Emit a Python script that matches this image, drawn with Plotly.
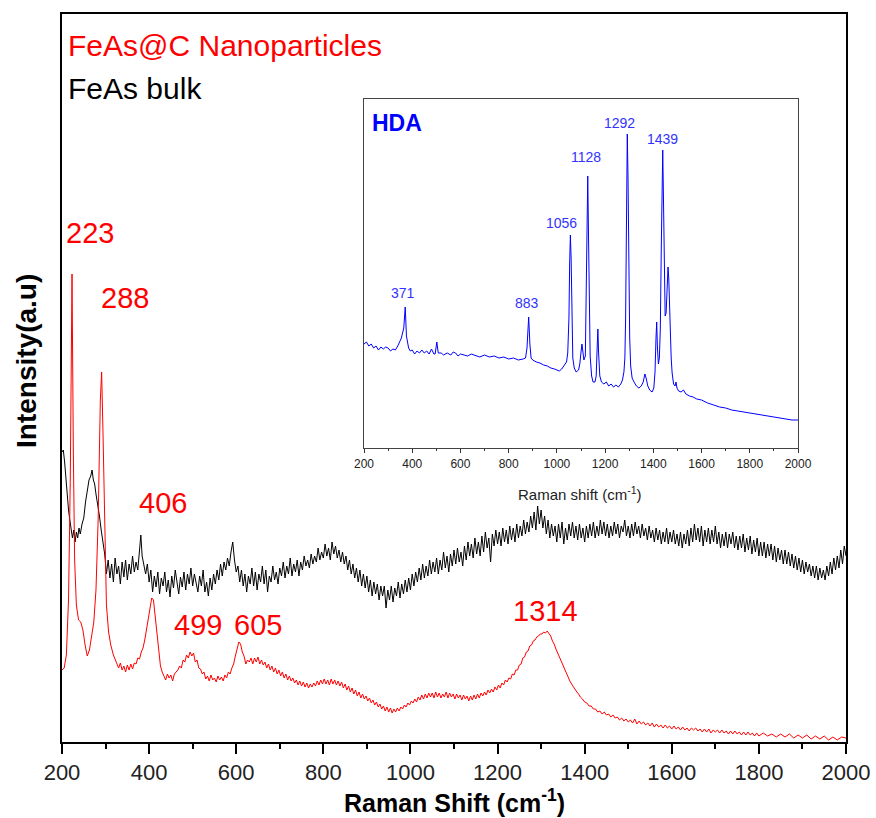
import plotly.graph_objects as go

# ---------------- data (Raman shift in cm^-1, intensity in arbitrary units) ----------------
red_pts = [(200,72),(205,74),(210,87),(215,142),(219,262),(223,468),(226,292),(229,182),(233,137),(238,122),(243,120),(248,112),(253,97),(258,86),(263,92),(268,104),(273,120),(278,152),(283,222),(288,342),(291,370),(294,312),(298,202),(302,137),(307,110),(312,97),(318,87),(322,82),(326,78),(330,74),(334,79),(338,72),(342,76),(346,70),(350,77),(354,72),(358,78),(362,73),(366,79),(370,78),(374,84),(378,83),(382,90),(386,94),(390,102),(394,112),(398,124),(402,136),(406,144),(410,142),(414,126),(418,106),(422,88),(426,76),(430,70),(434,66),(438,62),(442,68),(446,64),(450,67),(454,61),(458,68),(462,70),(466,72),(470,76),(474,74),(478,82),(482,80),(486,87),(490,84),(494,90),(498,86),(502,89),(506,80),(510,82),(514,74),(518,73),(522,68),(526,70),(530,63),(534,66),(538,61),(542,67),(546,62),(550,64),(554,60),(558,66),(562,62),(566,65),(570,61),(574,67),(578,64),(582,70),(586,68),(590,74),(594,78),(598,86),(602,94),(606,100),(610,98),(614,90),(618,86),(622,78),(626,82),(630,80),(634,84),(638,78),(642,84),(646,80),(650,85),(654,78),(658,82),(662,77),(666,80),(670,74),(674,78),(678,72),(682,76),(686,70),(690,74),(694,68),(698,72),(702,66),(706,70),(710,64),(714,68),(718,62),(722,66),(726,61),(730,64),(734,59),(738,62),(742,57),(746,61),(750,56),(754,60),(758,55),(762,59),(766,54),(770,58),(774,55),(778,59),(782,56),(786,61),(790,57),(794,62),(798,58),(802,63),(806,58),(810,62),(814,57),(818,63),(822,58),(826,62),(830,57),(834,61),(838,56),(842,60),(846,54),(850,58),(854,52),(858,56),(862,50),(866,54),(870,48),(874,52),(878,46),(882,50),(886,44),(890,48),(894,43),(898,46),(902,41),(906,44),(910,39),(914,42),(918,37),(922,40),(926,35),(930,38),(934,33),(938,36),(942,31),(946,35),(950,30),(954,34),(958,29),(962,33),(966,30),(970,34),(974,31),(978,35),(982,33),(986,37),(990,35),(994,39),(998,37),(1002,41),(1006,39),(1010,43),(1014,40),(1018,45),(1022,42),(1026,47),(1030,43),(1034,48),(1038,44),(1042,49),(1046,45),(1050,49),(1054,44),(1058,50),(1062,45),(1066,49),(1070,44),(1074,48),(1078,45),(1082,50),(1086,44),(1090,49),(1094,45),(1098,48),(1102,43),(1106,48),(1110,44),(1114,47),(1118,42),(1122,47),(1126,43),(1130,46),(1134,41),(1138,46),(1142,42),(1146,47),(1150,43),(1154,48),(1158,44),(1162,49),(1166,46),(1170,50),(1174,47),(1178,52),(1182,49),(1186,53),(1190,50),(1194,55),(1198,52),(1202,57),(1206,54),(1210,59),(1214,57),(1218,62),(1222,60),(1226,64),(1230,63),(1234,68),(1238,67),(1242,72),(1246,72),(1250,77),(1254,78),(1258,84),(1262,85),(1266,90),(1270,91),(1274,96),(1278,97),(1282,101),(1286,102),(1290,105),(1294,106),(1298,108),(1302,108),(1306,110),(1310,109),(1314,111),(1318,108),(1322,106),(1326,101),(1330,98),(1334,93),(1338,89),(1342,84),(1346,80),(1350,76),(1354,72),(1358,68),(1362,64),(1366,61),(1370,58),(1374,55),(1378,53),(1382,50),(1386,48),(1390,45),(1395,43),(1400,40),(1405,39),(1410,36),(1415,36),(1420,33),(1425,33),(1430,30),(1435,31),(1440,28),(1445,30),(1450,27),(1455,28),(1460,25),(1465,27),(1470,24),(1475,25),(1480,22),(1485,24),(1490,21),(1495,23),(1500,20),(1505,22),(1510,19),(1515,23),(1520,18),(1525,21),(1530,18),(1535,20),(1540,17),(1545,19),(1550,16),(1555,19),(1560,15),(1565,18),(1570,15),(1575,17),(1580,14),(1585,17),(1590,14),(1595,16),(1600,13),(1605,16),(1610,13),(1615,15),(1620,12),(1625,15),(1630,12),(1635,14),(1640,11),(1645,14),(1650,12),(1655,14),(1660,11),(1665,13),(1670,10),(1675,13),(1680,10),(1685,13),(1690,9),(1695,12),(1700,10),(1705,12),(1710,9),(1715,12),(1720,9),(1725,11),(1730,8),(1735,11),(1740,8),(1745,11),(1750,8),(1755,10),(1760,7),(1765,10),(1770,7),(1775,10),(1780,7),(1785,9),(1790,6),(1795,9),(1800,6),(1810,9),(1820,6),(1830,8),(1840,5),(1850,8),(1860,5),(1870,8),(1880,4),(1890,7),(1900,4),(1910,7),(1920,3),(1930,6),(1940,3),(1950,6),(1960,2),(1970,5),(1980,2),(1990,5),(2000,4)]

black_pts = [(200,290),(203,292),(206,280),(209,262),(212,245),(215,232),(218,222),(221,214),(224,204),(227,212),(230,200),(233,210),(236,204),(239,214),(242,208),(246,218),(250,224),(254,240),(258,252),(262,262),(266,266),(269,272),(272,262),(275,258),(278,248),(282,238),(286,226),(290,212),(294,200),(298,188),(302,168),(306,182),(310,164),(314,178),(318,160),(322,184),(326,168),(330,176),(334,158),(338,180),(342,165),(346,182),(350,162),(354,178),(358,168),(362,186),(366,170),(370,180),(374,172),(378,192),(381,207),(384,186),(388,176),(392,168),(396,178),(400,160),(404,172),(408,150),(412,166),(416,155),(420,170),(424,148),(428,164),(432,156),(436,170),(440,150),(444,162),(448,145),(452,166),(456,154),(460,172),(464,158),(468,148),(472,165),(476,155),(480,170),(484,152),(488,168),(492,158),(496,174),(500,156),(504,168),(508,160),(512,150),(516,166),(520,156),(524,172),(528,150),(532,160),(536,146),(540,164),(544,152),(548,168),(552,158),(556,172),(560,162),(564,178),(568,166),(572,180),(576,172),(580,184),(584,176),(588,190),(592,200),(596,182),(600,170),(604,176),(608,160),(612,172),(616,156),(620,168),(624,150),(628,166),(632,158),(636,174),(640,156),(644,170),(648,152),(652,168),(656,160),(660,176),(664,158),(668,172),(672,150),(676,166),(680,160),(684,176),(688,162),(692,170),(696,158),(700,174),(704,166),(708,180),(712,164),(716,176),(720,168),(724,184),(728,166),(732,178),(736,170),(740,182),(744,166),(748,180),(752,172),(756,186),(760,176),(764,182),(768,174),(772,188),(776,178),(780,186),(784,180),(788,194),(792,182),(796,190),(800,184),(804,198),(808,186),(812,194),(816,182),(820,200),(824,188),(828,196),(832,184),(836,192),(840,180),(844,190),(848,178),(852,186),(856,172),(860,182),(864,168),(868,178),(872,164),(876,174),(880,160),(884,172),(888,156),(892,168),(896,154),(900,166),(904,150),(908,162),(912,146),(916,160),(920,148),(924,158),(928,142),(932,156),(936,146),(940,156),(944,134),(948,152),(952,142),(956,156),(960,140),(964,154),(968,146),(972,160),(976,144),(980,158),(984,148),(988,162),(992,150),(996,164),(1000,152),(1004,168),(1008,156),(1012,170),(1016,160),(1020,174),(1024,162),(1028,178),(1032,164),(1036,176),(1040,166),(1044,182),(1048,168),(1052,180),(1056,170),(1060,184),(1064,168),(1068,182),(1072,172),(1076,190),(1080,174),(1084,186),(1088,170),(1092,188),(1096,176),(1100,192),(1104,178),(1108,194),(1112,180),(1116,190),(1120,176),(1124,196),(1128,182),(1132,200),(1136,186),(1140,198),(1144,184),(1148,204),(1152,188),(1156,200),(1160,186),(1164,206),(1168,190),(1172,210),(1176,194),(1180,204),(1184,180),(1188,208),(1192,196),(1196,212),(1200,198),(1204,210),(1208,196),(1212,214),(1216,200),(1220,212),(1224,198),(1228,216),(1232,202),(1236,214),(1240,200),(1244,218),(1248,204),(1252,216),(1256,206),(1260,222),(1264,208),(1268,220),(1272,210),(1276,226),(1280,214),(1284,230),(1288,212),(1292,236),(1296,218),(1300,232),(1304,214),(1308,226),(1312,208),(1316,222),(1320,204),(1324,218),(1328,206),(1332,216),(1336,200),(1340,218),(1344,204),(1348,220),(1352,198),(1356,214),(1360,202),(1364,218),(1368,206),(1372,220),(1376,204),(1380,216),(1384,202),(1388,218),(1392,204),(1396,214),(1400,200),(1404,216),(1408,204),(1412,218),(1416,206),(1420,220),(1424,204),(1428,216),(1432,206),(1436,222),(1440,208),(1444,220),(1448,206),(1452,218),(1456,204),(1460,216),(1464,206),(1468,220),(1472,208),(1476,218),(1480,204),(1484,216),(1488,210),(1492,222),(1496,206),(1500,216),(1504,204),(1508,218),(1512,206),(1516,220),(1520,208),(1524,216),(1528,204),(1532,218),(1536,206),(1540,214),(1544,202),(1548,216),(1552,204),(1556,212),(1560,200),(1564,214),(1568,202),(1572,212),(1576,198),(1580,210),(1584,200),(1588,214),(1592,198),(1596,210),(1600,200),(1604,212),(1608,198),(1612,208),(1616,196),(1620,210),(1624,194),(1628,208),(1632,198),(1636,212),(1640,196),(1644,214),(1648,200),(1652,218),(1656,202),(1660,214),(1664,200),(1668,216),(1672,196),(1676,212),(1680,200),(1684,214),(1688,198),(1692,212),(1696,200),(1700,216),(1704,198),(1708,210),(1712,194),(1716,208),(1720,196),(1724,210),(1728,194),(1732,208),(1736,198),(1740,210),(1744,194),(1748,206),(1752,192),(1756,206),(1760,194),(1764,208),(1768,190),(1772,204),(1776,192),(1780,206),(1784,188),(1788,202),(1792,190),(1796,204),(1800,186),(1804,200),(1808,186),(1812,200),(1816,184),(1820,198),(1824,186),(1828,198),(1832,182),(1836,196),(1840,180),(1844,194),(1848,182),(1852,192),(1856,178),(1860,192),(1864,178),(1868,190),(1872,176),(1876,188),(1880,174),(1884,186),(1888,172),(1892,184),(1896,170),(1900,182),(1904,168),(1908,180),(1912,170),(1916,178),(1920,166),(1924,176),(1928,164),(1932,176),(1936,162),(1940,174),(1944,164),(1948,172),(1952,162),(1956,176),(1960,166),(1964,180),(1968,168),(1972,184),(1976,172),(1980,186),(1984,174),(1988,192),(1992,178),(1996,196),(2000,186)]

hda_pts = [(200,104),(210,106),(220,102),(230,104),(240,100),(250,102),(260,98),(270,101),(280,99),(290,101),(300,100),(310,97),(320,99),(330,98),(340,102),(355,110),(365,120),(371,141),(376,112),(385,100),(392,97),(400,98),(410,94),(420,97),(430,95),(440,98),(450,95),(460,97),(470,94),(480,99),(490,94),(495,94),(502,106),(508,95),(520,95),(530,93),(545,95),(560,93),(570,96),(580,95),(590,92),(600,94),(615,93),(630,92),(645,94),(660,93),(680,91),(700,93),(720,91),(740,92),(760,90),(780,91),(800,89),(820,90),(840,88),(860,89),(870,90),(876,100),(883,131),(888,104),(893,90),(900,88),(915,86),(930,85),(945,83),(960,82),(975,80),(990,79),(1000,78),(1010,77),(1020,79),(1030,82),(1040,86),(1045,95),(1050,130),(1053,185),(1056,213),(1059,190),(1062,120),(1066,90),(1072,80),(1080,76),(1090,78),(1095,84),(1101,98),(1104,104),(1108,96),(1112,88),(1118,92),(1121,140),(1124,210),(1128,272),(1131,215),(1134,140),(1138,92),(1144,72),(1150,66),(1158,66),(1163,72),(1167,100),(1170,119),(1173,95),(1178,72),(1185,66),(1195,64),(1205,66),(1215,62),(1225,64),(1235,61),(1245,63),(1255,61),(1265,64),(1272,68),(1278,76),(1282,90),(1285,130),(1288,200),(1292,314),(1295,270),(1298,180),(1302,110),(1306,82),(1312,70),(1320,66),(1330,62),(1340,60),(1350,62),(1358,66),(1365,74),(1370,70),(1377,62),(1385,58),(1395,56),(1402,60),(1407,76),(1411,110),(1414,126),(1417,100),(1421,84),(1425,90),(1429,120),(1433,200),(1436,260),(1439,298),(1442,250),(1445,180),(1449,132),(1453,135),(1457,160),(1461,181),(1464,170),(1467,140),(1470,110),(1474,90),(1478,75),(1484,64),(1490,62),(1494,66),(1498,60),(1505,57),(1515,56),(1525,58),(1535,54),(1550,52),(1565,51),(1580,49),(1600,48),(1625,45),(1650,43),(1675,41),(1700,40),(1725,38),(1750,37),(1775,36),(1800,35),(1825,34),(1850,33),(1875,32),(1900,31),(1925,30),(1950,29),(1975,28),(2000,28)]

red_x = [p[0] for p in red_pts]
red_y = [p[1] for p in red_pts]
black_x = [p[0] for p in black_pts]
black_y = [p[1] for p in black_pts]
hda_x = [p[0] for p in hda_pts]
hda_y = [p[1] for p in hda_pts]

main_labels = ["223", "288", "406", "499", "605", "1314"]
main_label_x = [264, 345, 432, 512, 650, 1311]
main_label_y = [509, 444, 239, 117, 117, 131]

hda_labels = ["371", "883", "1056", "1128", "1292", "1439"]
hda_label_x = [362, 876, 1021, 1121, 1258, 1436]
hda_label_y = [155, 145, 225, 291, 325, 309]

tick_vals = [200, 400, 600, 800, 1000, 1200, 1400, 1600, 1800, 2000]
tick_text = [str(v) for v in tick_vals]

# ---------------- figure ----------------
W, H = 876, 818
L, R, T, B = 62, 30, 14, 76
fig = go.Figure()

fig.add_trace(go.Scatter(x=black_x, y=black_y, mode="lines",
                         line=dict(color="black", width=1), xaxis="x", yaxis="y"))
fig.add_trace(go.Scatter(x=red_x, y=red_y, mode="lines",
                         line=dict(color="#ff0000", width=1), xaxis="x", yaxis="y"))
fig.add_trace(go.Scatter(x=hda_x, y=hda_y, mode="lines",
                         line=dict(color="#0000ff", width=1), xaxis="x2", yaxis="y2"))

sans = "Liberation Sans, Arial"

pw = W - L - R
ph = H - T - B
ix0, ix1 = (364 - L) / pw, (798 - L) / pw
iy0, iy1 = (H - B - 448) / ph, (H - B - 99) / ph

fig.update_layout(
    width=W, height=H,
    margin=dict(l=L, r=R, t=T, b=B, autoexpand=False),
    paper_bgcolor="white", plot_bgcolor="white",
    showlegend=False,
    xaxis=dict(range=[200, 2000], domain=[0, 1], tickvals=tick_vals, ticktext=tick_text,
               automargin=False,
               ticks="outside", ticklen=10, tickwidth=2, tickcolor="black",
               minor=dict(dtick=100, ticks="outside", ticklen=5, tickwidth=1.5, tickcolor="black"),
               showline=True, linecolor="black", linewidth=2, mirror=True,
               showgrid=False, zeroline=False,
               tickfont=dict(family=sans, size=22, color="#222")),
    yaxis=dict(range=[0, 728], domain=[0, 1], showticklabels=False, ticks="", automargin=False,
               showline=True, linecolor="black", linewidth=2, mirror=True,
               showgrid=False, zeroline=False),
    xaxis2=dict(range=[200, 2000], domain=[ix0, ix1], anchor="y2", automargin=False,
                dtick=200, tick0=200, ticks="outside", ticklen=4, tickwidth=1, tickcolor="#333",
                minor=dict(dtick=100, ticks="outside", ticklen=2, tickwidth=1, tickcolor="#333"),
                showline=True, linecolor="#444", linewidth=1.2, mirror=True,
                showgrid=False, zeroline=False,
                tickfont=dict(family=sans, size=12, color="#222")),
    yaxis2=dict(range=[0, 349], domain=[iy0, iy1], anchor="x2", showticklabels=False, ticks="",
                automargin=False,
                showline=True, linecolor="#444", linewidth=1.2, mirror=True,
                showgrid=False, zeroline=False),
)

ann = []
for t, x, y in zip(main_labels, main_label_x, main_label_y):
    ann.append(dict(text=t, x=x, y=y, xref="x", yref="y", showarrow=False,
                    font=dict(family=sans, size=29, color="#ff0000")))
for t, x, y in zip(hda_labels, hda_label_x, hda_label_y):
    ann.append(dict(text=t, x=x, y=y, xref="x2", yref="y2", showarrow=False,
                    font=dict(family=sans, size=14, color="#3333ff")))
ann.append(dict(text="HDA", x=0.014, y=0.931, xref="x2 domain", yref="y2 domain",
                xanchor="left", yanchor="middle", showarrow=False,
                font=dict(family=sans, size=23, color="#0000ff", weight="bold")))
ann.append(dict(text="FeAs@C Nanoparticles", x=(66 - L) / pw, y=(H - B - 46) / ph,
                xref="paper", yref="paper", xanchor="left", yanchor="middle", showarrow=False,
                font=dict(family=sans, size=30, color="#ff0000")))
ann.append(dict(text="FeAs bulk", x=(66 - L) / pw, y=(H - B - 89) / ph,
                xref="paper", yref="paper", xanchor="left", yanchor="middle", showarrow=False,
                font=dict(family=sans, size=30, color="black")))
ann.append(dict(text="Raman shift (cm<sup>-1</sup>)", x=(580 - L) / pw, y=(H - B - 493) / ph,
                xref="paper", yref="paper", xanchor="center", yanchor="middle", showarrow=False,
                font=dict(family=sans, size=15, color="#222")))
ann.append(dict(text="<b>Raman Shift (cm<sup>-1</sup>)</b>", x=(454 - L) / pw, y=(H - B - 819) / ph,
                xref="paper", yref="paper", xanchor="center", yanchor="bottom", showarrow=False,
                font=dict(family=sans, size=25, color="black")))
ann.append(dict(text="<b>Intensity(a.u)</b>", x=(26 - L) / pw, y=(H - B - 361) / ph,
                xref="paper", yref="paper", xanchor="center", yanchor="middle", showarrow=False,
                textangle=-90, font=dict(family=sans, size=28, color="black")))
fig.update_layout(annotations=ann)

fig.write_html("out.html")
